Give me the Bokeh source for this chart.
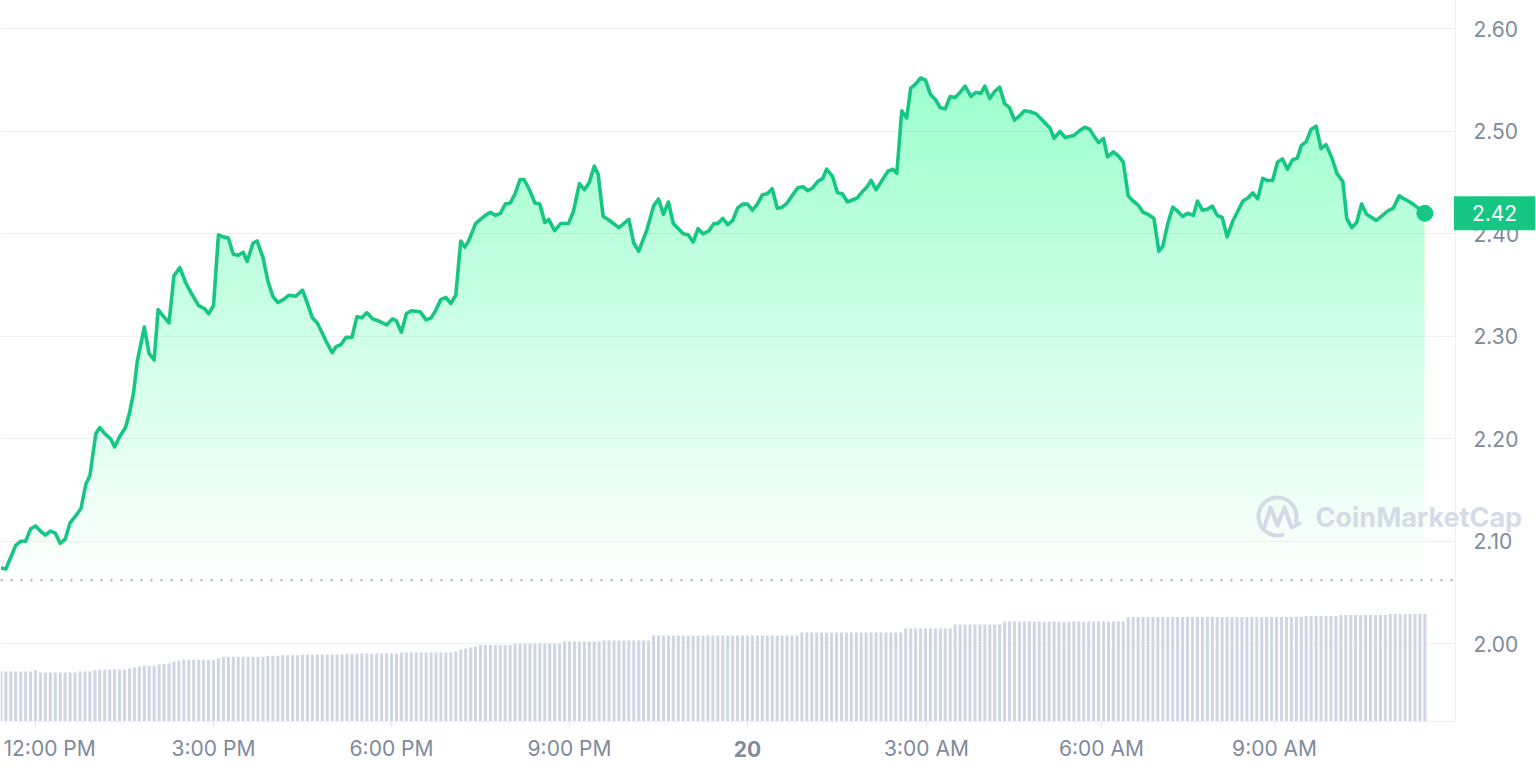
import numpy as np
import pandas as pd
from bokeh.plotting import figure
from bokeh.models import Range1d, FixedTicker, Label, NumeralTickFormatter, BoxAnnotation
from bokeh.embed import file_html
from bokeh.resources import INLINE

# ---------------- data ----------------
session_noon = "2025-03-19 12:00"          # 12:00 PM of the first day
minutes_from_noon = [
    -35, -30, -20, -15, -10, -5, 0, 5, 10, 15,
    20, 25, 30, 35, 40, 46, 51, 55, 61, 65,
    70, 76, 80, 85, 91, 95, 99, 103, 110, 115,
    120, 124, 129, 135, 140, 146, 152, 157, 165, 171,
    175, 180, 185, 190, 195, 200, 205, 210, 214, 220,
    224, 230, 235, 240, 245, 251, 256, 263, 270, 275,
    280, 285, 291, 295, 300, 304, 309, 314, 320, 325,
    330, 335, 341, 347, 355, 361, 365, 370, 375, 380,
    389, 395, 400, 404, 410, 415, 420, 425, 430, 434,
    438, 445, 450, 455, 460, 465, 470, 475, 480, 485,
    490, 494, 500, 505, 510, 515, 519, 525, 531, 539,
    544, 550, 555, 560, 565, 569, 574, 579, 590, 600,
    605, 610, 618, 625, 630, 635, 640, 645, 655, 660,
    665, 670, 675, 681, 686, 690, 695, 700, 705, 710,
    715, 720, 725, 730, 735, 740, 745, 750, 755, 760,
    765, 771, 776, 781, 786, 791, 796, 800, 806, 811,
    816, 821, 826, 831, 836, 841, 845, 850, 856, 862,
    867, 871, 876, 881, 885, 890, 895, 900, 905, 910,
    915, 920, 925, 930, 935, 940, 946, 951, 956, 960,
    965, 970, 975, 980, 985, 990, 995, 1000, 1006, 1012,
    1016, 1021, 1026, 1030, 1036, 1041, 1050, 1055, 1061, 1066,
    1070, 1075, 1080, 1084, 1090, 1095, 1100, 1105, 1110, 1115,
    1120, 1125, 1131, 1136, 1140, 1145, 1150, 1155, 1160, 1165,
    1171, 1175, 1180, 1185, 1190, 1195, 1200, 1205, 1211, 1221,
    1226, 1231, 1236, 1241, 1246, 1251, 1256, 1261, 1266, 1271,
    1276, 1280, 1285, 1290, 1295, 1300, 1305, 1311, 1316, 1322,
    1326, 1331, 1336, 1341, 1346, 1351, 1356, 1361, 1367, 1373,
    1379, 1384, 1390, 1397, 1405,
]
price_usd = [
    2.074, 2.073, 2.096, 2.100, 2.100, 2.112, 2.115, 2.110, 2.106, 2.110,
    2.108, 2.098, 2.102, 2.118, 2.124, 2.132, 2.156, 2.164, 2.205, 2.211,
    2.205, 2.200, 2.192, 2.202, 2.211, 2.225, 2.244, 2.276, 2.309, 2.283,
    2.277, 2.326, 2.320, 2.313, 2.359, 2.367, 2.352, 2.343, 2.330, 2.327,
    2.322, 2.330, 2.399, 2.397, 2.396, 2.380, 2.379, 2.382, 2.373, 2.391,
    2.393, 2.377, 2.354, 2.339, 2.333, 2.336, 2.340, 2.339, 2.345, 2.332,
    2.318, 2.313, 2.301, 2.293, 2.284, 2.290, 2.292, 2.299, 2.299, 2.319,
    2.318, 2.323, 2.317, 2.315, 2.311, 2.317, 2.315, 2.304, 2.322, 2.325,
    2.324, 2.316, 2.318, 2.324, 2.336, 2.338, 2.332, 2.340, 2.393, 2.387,
    2.393, 2.410, 2.414, 2.418, 2.421, 2.418, 2.420, 2.429, 2.430, 2.439,
    2.453, 2.453, 2.442, 2.430, 2.429, 2.411, 2.414, 2.403, 2.410, 2.410,
    2.422, 2.449, 2.443, 2.450, 2.466, 2.458, 2.417, 2.414, 2.406, 2.414,
    2.391, 2.383, 2.403, 2.427, 2.434, 2.419, 2.431, 2.410, 2.400, 2.399,
    2.392, 2.405, 2.400, 2.403, 2.410, 2.410, 2.415, 2.409, 2.413, 2.425,
    2.429, 2.429, 2.423, 2.429, 2.438, 2.439, 2.444, 2.425, 2.426, 2.430,
    2.437, 2.445, 2.446, 2.442, 2.445, 2.451, 2.454, 2.463, 2.456, 2.440,
    2.439, 2.431, 2.433, 2.435, 2.441, 2.446, 2.452, 2.443, 2.452, 2.461,
    2.463, 2.459, 2.520, 2.513, 2.542, 2.546, 2.552, 2.550, 2.536, 2.531,
    2.523, 2.522, 2.534, 2.533, 2.538, 2.544, 2.534, 2.538, 2.537, 2.544,
    2.532, 2.539, 2.543, 2.527, 2.523, 2.511, 2.515, 2.520, 2.519, 2.517,
    2.513, 2.508, 2.503, 2.493, 2.500, 2.494, 2.496, 2.500, 2.504, 2.502,
    2.496, 2.489, 2.493, 2.475, 2.480, 2.476, 2.470, 2.437, 2.432, 2.428,
    2.421, 2.419, 2.415, 2.383, 2.388, 2.410, 2.426, 2.422, 2.417, 2.420,
    2.418, 2.432, 2.423, 2.424, 2.427, 2.418, 2.416, 2.397, 2.413, 2.432,
    2.435, 2.440, 2.434, 2.454, 2.452, 2.452, 2.470, 2.473, 2.463, 2.472,
    2.474, 2.486, 2.490, 2.502, 2.505, 2.483, 2.487, 2.474, 2.459, 2.451,
    2.415, 2.406, 2.411, 2.429, 2.419, 2.416, 2.413, 2.417, 2.422, 2.425,
    2.437, 2.434, 2.431, 2.426, 2.420,
]
reference_price = 2.062        # dotted open-price line

# volume bars: one bar every 5 minutes, relative heights as plateaus (level, number of bars)
volume_first_bar_min = -35
volume_bar_step_min = 5
volume_levels = [50.0, 51.5, 49.0, 50.0, 51.5, 52.0, 53.0, 54.0, 54.7, 55.7,
                 57.3, 58.3, 59.7, 60.7, 61.7, 63.3, 64.7, 65.7, 66.3, 67.0,
                 68.0, 69.0, 70.0, 72.0, 73.0, 74.0, 75.0, 76.5, 78.0, 80.0,
                 81.0, 86.0, 89.0, 93.0, 97.0, 100.0, 104.5, 105.5, 106.5, 107.5]
volume_run_lengths = [7, 1, 8, 3, 1, 6, 1, 1, 1, 3,
                      2, 1, 1, 1, 7, 1, 9, 3, 4, 9,
                      11, 11, 1, 1, 1, 1, 1, 7, 10, 8,
                      10, 30, 21, 10, 10, 25, 36, 7, 10, 8]

price_ticks = [2.00, 2.10, 2.20, 2.30, 2.40, 2.50, 2.60]
time_tick_minutes = [0, 180, 360, 540, 720, 901, 1078, 1253]
time_tick_labels = ["12:00 PM", "3:00 PM", "6:00 PM", "9:00 PM", "20", "3:00 AM", "6:00 AM", "9:00 AM"]
bold_tick_labels = ["20"]

# ---------------- styling / layout ----------------
GREEN = "#16c784"
LABEL_GRAY = "#808a9d"
GRID = "#eff2f5"
BAR = "#cfd6e4"
FONT = "Inter"
FS = "21px"

MS_PER_MIN = 60000.0
EPOCH = pd.Timestamp("1970-01-01")
noon_ms = (pd.Timestamp(session_noon) - EPOCH) / pd.Timedelta(milliseconds=1)

W, H = 1536, 772
# pixel calibration of the picture
PX_PER_MIN = 178.0 / 180.0
NOON_PX = 35.0
PX_PER_PRICE = 1025.0
P260_PY = 28.3
PLOT_RIGHT_PX = 1455      # right edge of the plotting area (y axis line)
PLOT_BOTTOM_PY = 721      # bottom edge of the plotting area (x axis line)


def px_to_ms(px):
    return noon_ms + (px - NOON_PX) / PX_PER_MIN * MS_PER_MIN


def py_to_price(py):
    return 2.60 - (py - P260_PY) / PX_PER_PRICE


t_ms = noon_ms + np.array(minutes_from_noon, dtype=float) * MS_PER_MIN
prices = np.array(price_usd)

volume = np.repeat(volume_levels, volume_run_lengths)
bar_ms = noon_ms + (volume_first_bar_min + volume_bar_step_min * np.arange(len(volume))) * MS_PER_MIN

x_left, x_right = px_to_ms(0), px_to_ms(PLOT_RIGHT_PX)
y_bottom = py_to_price(PLOT_BOTTOM_PY)

p = figure(width=W, height=H, output_backend="svg", toolbar_location=None, title=None,
           x_axis_type="datetime", y_axis_location="right",
           x_range=Range1d(px_to_ms(0), px_to_ms(W)),
           y_range=Range1d(py_to_price(H), py_to_price(0)),
           min_border=0, min_border_left=0, min_border_right=0,
           min_border_top=0, min_border_bottom=0,
           background_fill_color="white", border_fill_color="white",
           outline_line_color=None)
p.extra_y_ranges = {"vol": Range1d(-(H - PLOT_BOTTOM_PY), PLOT_BOTTOM_PY)}

# grid
p.xgrid.visible = False
p.ygrid.ticker = FixedTicker(ticks=price_ticks)
p.ygrid.grid_line_color = GRID
p.ygrid.grid_line_width = 1
# keep the axis-label column on the right free of grid lines
p.add_layout(BoxAnnotation(left=px_to_ms(PLOT_RIGHT_PX + 1), level="underlay",
                           fill_color="white", fill_alpha=1.0, line_color=None))

# y axis (right, drawn at the right edge of the plotting area)
yax = p.yaxis[0]
yax.fixed_location = x_right
yax.bounds = (y_bottom, py_to_price(0))
yax.ticker = FixedTicker(ticks=price_ticks)
yax.formatter = NumeralTickFormatter(format="0.00")
yax.major_label_standoff = 18
yax.major_tick_out = 0
yax.major_tick_in = 0
yax.minor_tick_out = 0
yax.minor_tick_in = 0
yax.axis_line_color = GRID
yax.major_label_text_font = FONT
yax.major_label_text_font_size = FS
yax.major_label_text_color = LABEL_GRAY

# x axis (drawn at the bottom edge of the plotting area)
tick_ms = [noon_ms + m * MS_PER_MIN for m in time_tick_minutes]
xax = p.xaxis[0]
xax.fixed_location = y_bottom
xax.bounds = (x_left, x_right)
xax.ticker = FixedTicker(ticks=tick_ms)
overrides = {}
for i, (tm, lab) in enumerate(zip(tick_ms, time_tick_labels)):
    overrides[tm] = "" if (i == 0 or lab in bold_tick_labels) else lab
xax.major_label_overrides = overrides
xax.major_tick_out = 6
xax.major_tick_in = 0
xax.minor_tick_out = 0
xax.minor_tick_in = 0
xax.major_tick_line_color = "#e6e9ee"
xax.axis_line_color = GRID
xax.major_label_standoff = 8
xax.major_label_text_font = FONT
xax.major_label_text_font_size = FS
xax.major_label_text_color = LABEL_GRAY

# first label is kept inside the chart, the day label is bold
label_py = py_to_price(748)
p.add_layout(Label(x=px_to_ms(3), y=label_py, text=time_tick_labels[0],
                   text_align="left", text_baseline="middle", text_font=FONT,
                   text_font_size=FS, text_color=LABEL_GRAY))
for tm, lab in zip(tick_ms, time_tick_labels):
    if lab in bold_tick_labels:
        p.add_layout(Label(x=tm, y=label_py, text=lab, text_align="center",
                           text_baseline="middle", text_font=FONT, text_font_style="bold",
                           text_font_size=FS, text_color=LABEL_GRAY))

# volume bars
p.vbar(x=bar_ms, top=volume, bottom=0, width=3.0 / PX_PER_MIN * MS_PER_MIN,
       y_range_name="vol", fill_color=BAR, line_color=None)

# gradient area under the price line (stacked translucent layers)
fill_floor, fill_ceiling, n_layers, top_alpha = 2.06, 2.56, 50, 0.32
prev = 0.0
for k in range(n_layers):
    lvl = fill_floor + (fill_ceiling - fill_floor) * k / n_layers
    target = top_alpha * (k + 1) / n_layers
    a = (target - prev) / (1 - prev)
    prev = target
    p.varea(x=t_ms, y1=lvl, y2=np.maximum(prices, lvl), fill_color=GREEN, fill_alpha=a)

# open price dotted line across the plotting area
p.segment(x0=[x_left], y0=[reference_price], x1=[x_right], y1=[reference_price],
          line_color="#a3abbd", line_width=2, line_dash="2 8")

# watermark
wm_cx, wm_cy = 1277, 516
p.arc(x=[px_to_ms(wm_cx)], y=[py_to_price(wm_cy)], radius=19, radius_units="screen",
      start_angle=np.radians(-20), end_angle=np.radians(290), direction="anticlock",
      line_color=BAR, line_width=4, line_alpha=0.9)
wave_dx = [-14, -7, 0, 7, 14, 22]
wave_dy = [13, -9, 9, -9, 11, 7]
p.line(x=[px_to_ms(wm_cx + d) for d in wave_dx], y=[py_to_price(wm_cy + d) for d in wave_dy],
       line_color=BAR, line_width=4, line_alpha=0.9, line_join="round", line_cap="round")
p.add_layout(Label(x=px_to_ms(1315), y=py_to_price(517), text="CoinMarketCap",
                   text_align="left", text_baseline="middle", text_font=FONT,
                   text_font_style="bold", text_font_size="27px", text_color=BAR,
                   text_alpha=0.9))

# price line and last point
p.line(t_ms, prices, line_color=GREEN, line_width=3.6, line_join="round")
p.scatter([t_ms[-1]], [prices[-1]], size=16, fill_color=GREEN, line_color=GREEN)

# last price tag on the axis
p.add_layout(Label(x=px_to_ms(1494), y=prices[-1], text=f"{prices[-1]:.2f}",
                   text_align="center", text_baseline="middle", text_font=FONT,
                   text_font_size=FS, text_color="white",
                   background_fill_color=GREEN, padding=(18, 9)))

open("out.html", "w").write(file_html(p, INLINE))
